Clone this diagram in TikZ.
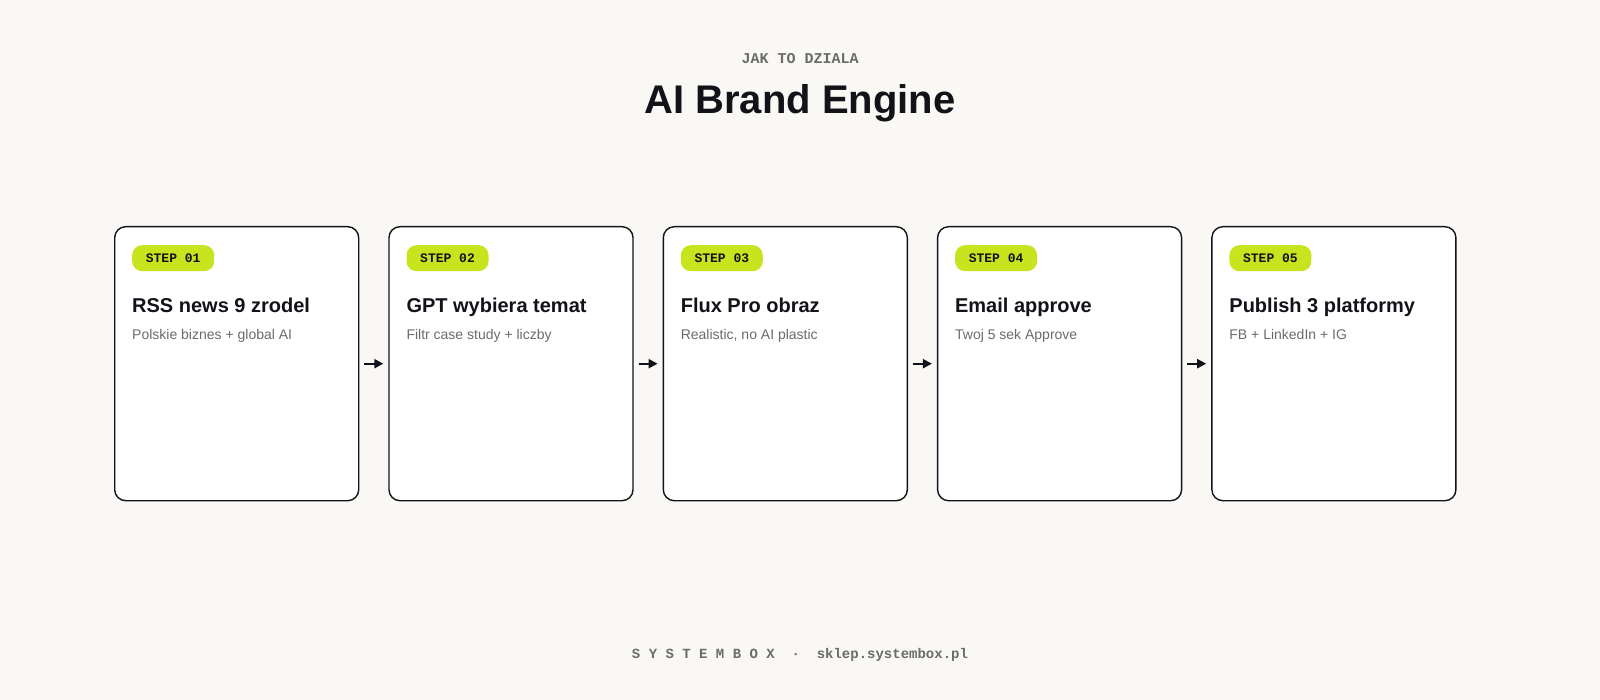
\documentclass[tikz,border=0pt]{standalone}
\usepackage{fontspec}
\setmainfont{Liberation Sans}
\setmonofont{Liberation Mono}
\usetikzlibrary{positioning,arrows.meta}
\definecolor{bg}{HTML}{F9F8F5}
\definecolor{ink}{HTML}{111318}
\definecolor{lime}{HTML}{C8E41E}
\definecolor{muted}{HTML}{6B6B6B}
\tikzset{
  card/.style={draw=ink,line width=1.4pt,fill=white,rounded corners=11pt,minimum width=244pt,minimum height=274pt,anchor=north west},
  badge/.style={fill=lime,rounded corners=10pt,minimum width=82pt,minimum height=26pt,inner sep=0pt,font=\fontsize{13}{13}\ttfamily\bfseries,text=ink,anchor=north west},
  head/.style={font=\fontsize{20}{24}\selectfont\bfseries,text=ink,anchor=base west,inner sep=0pt},
  sub/.style={font=\fontsize{14}{16}\selectfont,text=muted,anchor=base west,inner sep=0pt},
  flow/.style={-{Triangle[length=9pt,width=9pt]},line width=2pt,draw=ink}
}
\begin{document}
\begin{tikzpicture}[x=1pt,y=-1pt]
  \fill[bg] (0,0) rectangle (1600,700);
  \useasboundingbox (0,0) rectangle (1600,700);
  \node (kicker) at (800,59) {\fontsize{15}{15}\ttfamily\bfseries\color{muted}JAK TO DZIALA};
  \node (title) at (800,103) {\fontsize{40}{40}\selectfont\bfseries\color{ink}AI Brand Engine};
  % cards
  \foreach \i/\h/\s [count=\n from 0] in {01/RSS news 9 zrodel/Polskie biznes + global AI,
      02/GPT wybiera temat/Filtr case study + liczby,
      03/Flux Pro obraz/{Realistic, no AI plastic},
      04/Email approve/Twoj 5 sek Approve,
      05/Publish 3 platformy/FB + LinkedIn + IG} {
    \node[card] (c\n) at (114+274.3*\n,226) {};
    \node[badge] (b\n) at (132+274.3*\n,245) {STEP \i};
    \node[head] (h\n) at (132+274.3*\n,313) {\h};
    \node[sub] (s\n) at (132+274.3*\n,340) {\s};
  }
  \foreach \n [evaluate=\n as \m using int(\n+1)] in {0,...,3} {
    \coordinate (a\n) at ([xshift=5pt,yshift=-137pt]c\n.east);
    \draw[flow] ([xshift=5pt]c\n.east) -- ([xshift=-5pt]c\m.west);
  }
  \node (foot) at (800,655) {\fontsize{14}{14}\ttfamily\bfseries\color{muted}S Y S T E M B O X~~·~~sklep.systembox.pl};
\end{tikzpicture}
\end{document}
